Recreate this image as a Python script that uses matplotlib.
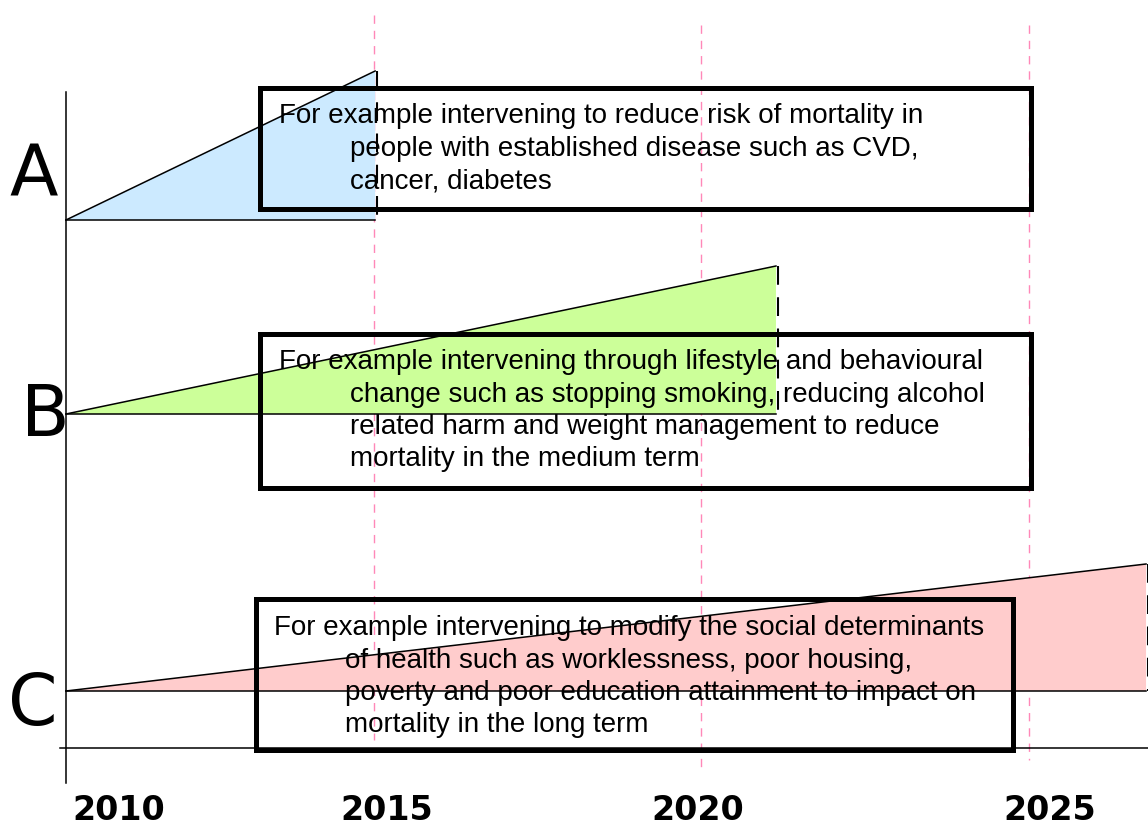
import matplotlib
matplotlib.use('Agg')
import matplotlib.pyplot as plt
from matplotlib.patches import Polygon, Rectangle

# three intervention horizons
row_labels = ['A', 'B', 'C']
start_year = 2010.3
end_years = [2015.02, 2021.14, 2026.79]
base_levels = [220, 414, 691]
peak_levels = [71, 266, 564]
fill_colors = ['#cceaff', '#ccff99', '#ffcccc']

year_labels = ['2010', '2015', '2020', '2025']
guide_years = [2015, 2020, 2025]

descriptions = [
    ['For example intervening to reduce risk of mortality in',
     'people with established disease such as CVD,',
     'cancer, diabetes'],
    ['For example intervening through lifestyle and behavioural',
     'change such as stopping smoking, reducing alcohol',
     'related harm and weight management to reduce',
     'mortality in the medium term'],
    ['For example intervening to modify the social determinants',
     'of health such as worklessness, poor housing,',
     'poverty and poor education attainment to impact on',
     'mortality in the long term'],
]

# layout (x in years, y in levels from the top)
box_x = [(2013.26, 2025.03), (2013.26, 2025.03), (2013.20, 2024.76)]
box_y = [(88, 209), (334, 488), (599, 750)]
text_x = [(2013.55, 2014.64), (2013.55, 2014.64), (2013.47, 2014.56)]
text_y0 = [123, 369, 635]
line_step = 32.5
letter_x = [2009.80, 2009.98, 2009.80]
letter_y = [176, 417, 706]
year_label_x = [2011.11, 2015.2, 2019.95, 2025.32]
guide_top = [15, 25, 25]
guide_bottom = [740, 772, 760]

fig = plt.figure(figsize=(11.48, 8.27), dpi=100)
ax = fig.add_axes([0, 0, 1, 1])
ax.set_xlim(2009.293, 2026.82)
ax.set_ylim(827, 0)
ax.axis('off')

# pink year guides
for gx, top, bot in zip(guide_years, guide_top, guide_bottom):
    ax.plot([gx, gx], [top, bot], color='#ff88b8', lw=1.0,
            dashes=(6, 5), zorder=1)

# axes frame
ax.plot([start_year, start_year], [92, 783], color='black', lw=1.1, zorder=5)
ax.plot([2010.21, 2026.82], [748, 748], color='black', lw=1.1, zorder=5)

for i, lab in enumerate(row_labels):
    x0, x1 = start_year, end_years[i]
    yb, yp = base_levels[i], peak_levels[i]
    ax.add_patch(Polygon([(x0, yb), (x1, yp), (x1, yb)], closed=True,
                         facecolor=fill_colors[i], edgecolor='none', zorder=2))
    ax.plot([x0, x1], [yb, yp], color='black', lw=1.1, zorder=5)
    ax.plot([x0, x1], [yb, yb], color='black', lw=1.1, zorder=5)
    ax.plot([x1 + 0.03, x1 + 0.03], [yp, yb], color='black', lw=1.5,
            dashes=(9, 6), zorder=5)

    bx0, bx1 = box_x[i]
    by0, by1 = box_y[i]
    ax.add_patch(Rectangle((bx0, by0), bx1 - bx0, by1 - by0, fill=False,
                           edgecolor='black', lw=3.6, zorder=3))

    first_x, rest_x = text_x[i]
    for j, line in enumerate(descriptions[i]):
        ax.text(first_x if j == 0 else rest_x, text_y0[i] + j * line_step,
                line, fontsize=20, family='Liberation Sans',
                ha='left', va='baseline', zorder=4)

    ax.text(letter_x[i], letter_y[i], lab, fontsize=51, family='DejaVu Sans',
            ha='center', va='center', zorder=4)

for lx, lab in zip(year_label_x, year_labels):
    ax.text(lx, 810, lab, fontsize=24, fontweight='bold', family='DejaVu Sans',
            ha='center', va='center')

fig.savefig('out.png', dpi=100)
